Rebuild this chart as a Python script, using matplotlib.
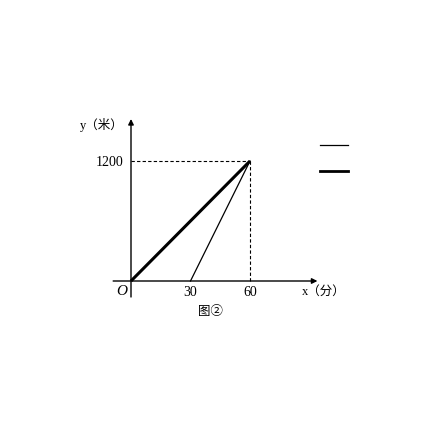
import matplotlib
matplotlib.use("Agg")
import matplotlib.pyplot as plt
from matplotlib.lines import Line2D

plt.rcParams['font.family'] = ['Liberation Serif', 'Noto Sans CJK SC']

# data
walk_x = [0, 60]          # thick line
walk_y = [0, 1200]
ride_x = [30, 60]         # thin line
ride_y = [0, 1200]
x_ticks = [30, 60]
y_ticks = [1200]
x_label = "x（分）"
y_label = "y（米）"
caption = "图②"

fig = plt.figure(figsize=(4.36, 4.36), dpi=100)
ax = fig.add_axes([0, 0, 1, 1])
ax.set_xlim(-66.05, 153.78)
ax.set_ylim(-1550, 2810)
ax.axis("off")

# axes with arrows
ax.annotate("", xy=(94, 0), xytext=(-9, 0),
            arrowprops=dict(arrowstyle="-|>", color="black", lw=1.0,
                            mutation_scale=8, shrinkA=0, shrinkB=0))
ax.annotate("", xy=(0, 1620), xytext=(0, -160),
            arrowprops=dict(arrowstyle="-|>", color="black", lw=1.0,
                            mutation_scale=8, shrinkA=0, shrinkB=0))

# dashed guides
ax.plot([0, walk_x[1]], [walk_y[1], walk_y[1]], ls=(0, (3, 2)), color="black", lw=0.8)
ax.plot([walk_x[1], walk_x[1]], [0, walk_y[1]], ls=(0, (3, 2)), color="black", lw=0.8)

ax.plot(walk_x, walk_y, color="black", lw=2.2, solid_capstyle="butt")
ax.plot(ride_x, ride_y, color="black", lw=0.9)

for t in x_ticks:
    ax.text(t, -115, str(t), ha="center", va="center", fontsize=10)
for t in y_ticks:
    ax.text(-4, t - 20, str(t), ha="right", va="center", fontsize=10)
ax.text(-4.5, -105, "O", ha="center", va="center", fontsize=11, style="italic")

ax.text(86, -110, x_label, ha="left", va="center", fontsize=9)
ax.text(-3.5, 1560, y_label, ha="right", va="center", fontsize=9)
ax.text(40, -310, caption, ha="center", va="center", fontsize=9,
        family=["Noto Sans CJK SC", "DejaVu Sans"])

handles = [Line2D([], [], color="black", lw=0.9),
           Line2D([], [], color="black", lw=2.0)]
ax.legend(handles, ["", ""], loc="upper left", bbox_to_anchor=(0.722, 0.689),
          frameon=False, handlelength=2.45, labelspacing=1.5,
          handletextpad=0, borderpad=0, fontsize=8)

fig.savefig("out.png", dpi=100)
